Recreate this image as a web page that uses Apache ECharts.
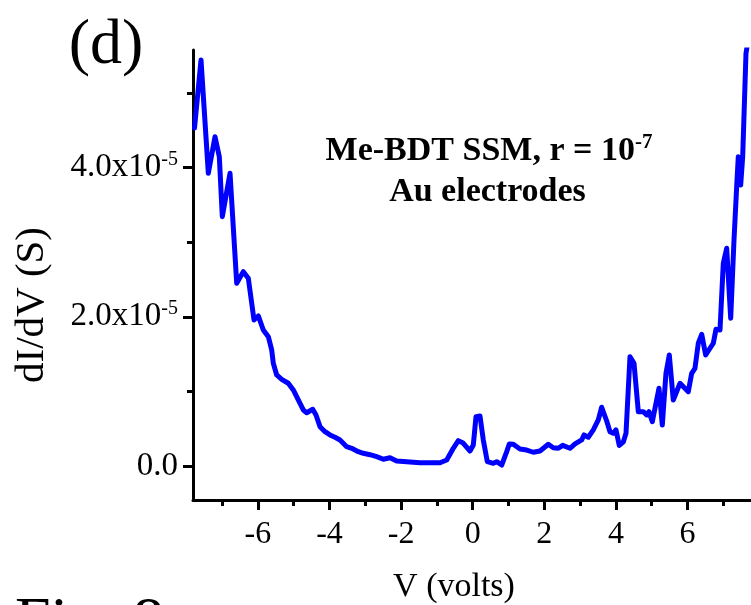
<!DOCTYPE html>
<html>
<head>
<meta charset="utf-8">
<title>dI/dV vs V</title>
<script src="https://cdn.jsdelivr.net/npm/echarts@6/dist/echarts.min.js"></script>
<style>
  html, body { margin: 0; padding: 0; background: #fff; }
  #chart { width: 751px; height: 605px; }
</style>
</head>
<body>
<div id="chart"></div>
<script>
// Bias voltage (V)
const volts = [
  -7.771, -7.589, -7.385, -7.198, -7.078, -6.994, -6.779, -6.592, -6.408, -6.268,
  -6.109, -5.989, -5.849, -5.709, -5.615, -5.570, -5.475, -5.335, -5.151, -5.011,
  -4.872, -4.732, -4.637, -4.469, -4.377, -4.265, -4.126, -3.986, -3.846, -3.707,
  -3.520, -3.380, -3.196, -3.056, -2.869, -2.682, -2.497, -2.310, -2.123, -1.844,
  -1.472, -0.913, -0.726, -0.542, -0.402, -0.279, -0.075, 0.017, 0.092, 0.204,
  0.296, 0.408, 0.575, 0.670, 0.810, 0.950, 1.022, 1.134, 1.321, 1.508,
  1.693, 1.880, 2.112, 2.251, 2.391, 2.514, 2.718, 2.858, 3.045, 3.109,
  3.229, 3.369, 3.508, 3.603, 3.743, 3.835, 3.927, 4.003, 4.095, 4.207,
  4.282, 4.394, 4.506, 4.626, 4.765, 4.860, 4.925, 5.017, 5.204, 5.296,
  5.399, 5.492, 5.603, 5.791, 6.022, 6.117, 6.209, 6.302, 6.397, 6.508,
  6.721, 6.796, 6.908, 7.000, 7.095, 7.207, 7.299, 7.374, 7.419, 7.486,
  7.542, 7.634, 7.760
];

// Differential conductance, in units of 1e-5 S
const dIdV = [
  4.531, 5.442, 3.924, 4.414, 4.146, 3.342, 3.924, 2.449, 2.605, 2.516,
  1.957, 2.011, 1.823, 1.733, 1.555, 1.377, 1.220, 1.162, 1.109, 1.019,
  0.885, 0.751, 0.714, 0.760, 0.684, 0.527, 0.460, 0.416, 0.385, 0.349,
  0.259, 0.237, 0.192, 0.170, 0.151, 0.125, 0.090, 0.111, 0.067, 0.058,
  0.044, 0.044, 0.080, 0.237, 0.339, 0.312, 0.201, 0.282, 0.661, 0.670,
  0.349, 0.058, 0.036, 0.058, 0.013, 0.192, 0.295, 0.291, 0.228, 0.214,
  0.184, 0.201, 0.291, 0.245, 0.237, 0.277, 0.237, 0.295, 0.349, 0.416,
  0.385, 0.483, 0.617, 0.787, 0.603, 0.460, 0.438, 0.483, 0.275, 0.322,
  0.438, 1.465, 1.377, 0.728, 0.728, 0.684, 0.728, 0.594, 1.042, 0.550,
  1.243, 1.488, 0.885, 1.109, 0.996, 1.243, 1.310, 1.645, 1.765, 1.488,
  1.645, 1.832, 1.823, 2.717, 2.918, 1.980, 3.029, 3.744, 4.146, 3.767,
  4.146, 5.532, 5.900
];

// Axis ticks
const vMajor = [-6, -4, -2, 0, 2, 4, 6];
const vMinor = [-7, -5, -3, -1, 1, 3, 5, 7];
const gMajor = [0, 2, 4];      // x 1e-5 S
const gMinor = [1, 3, 5];
const gLabels = ['0.0', '2.0x10', '4.0x10'];

const SERIF = '"Liberation Serif", "Times New Roman", serif';
const X_MIN = -7.813, X_MAX = 7.774;
const Y_MIN = -0.456, Y_MAX = 5.576;

const chart = echarts.init(document.getElementById('chart'), null, { renderer: 'canvas' });

const axisLineStyle = { color: '#000', width: 3 };
const plotBox = { left: 193, right: 0, top: 50, bottom: 105, containLabel: false, outerBoundsMode: 'none' };

chart.setOption({
  backgroundColor: '#fff',
  animation: false,
  // grid 0 carries the data and major ticks; grid 1 overlays it with the minor ticks only
  grid: [Object.assign({}, plotBox), Object.assign({}, plotBox)],
  xAxis: [
    {
      gridIndex: 0, type: 'value', min: X_MIN, max: X_MAX, position: 'bottom',
      axisLine: { show: true, onZero: false, lineStyle: axisLineStyle },
      axisTick: { show: true, inside: false, length: 10, customValues: vMajor, lineStyle: axisLineStyle },
      axisLabel: {
        show: true, customValues: vMajor, margin: 19,
        color: '#000', fontFamily: SERIF, fontSize: 32,
        formatter: v => String(v)
      },
      splitLine: { show: false }
    },
    {
      gridIndex: 1, type: 'value', min: X_MIN, max: X_MAX, position: 'bottom',
      axisLine: { show: false, onZero: false },
      axisTick: { show: true, inside: false, length: 6, customValues: vMinor, lineStyle: axisLineStyle },
      axisLabel: { show: false },
      splitLine: { show: false }
    }
  ],
  yAxis: [
    {
      gridIndex: 0, type: 'value', min: Y_MIN, max: Y_MAX, position: 'left',
      axisLine: { show: true, onZero: false, lineStyle: axisLineStyle },
      axisTick: { show: true, inside: false, length: 10, customValues: gMajor, lineStyle: axisLineStyle },
      axisLabel: {
        show: true, customValues: gMajor, margin: 15,
        color: '#000', fontFamily: SERIF, fontSize: 32,
        formatter: v => {
          const txt = gLabels[gMajor.indexOf(v)];
          return v === 0 ? '{m|' + txt + '}' : '{m|' + txt + '}{s|-5}';
        },
        rich: {
          m: { fontFamily: SERIF, fontSize: 33, color: '#000', lineHeight: 36 },
          s: { fontFamily: SERIF, fontSize: 20, color: '#000', verticalAlign: 'top', lineHeight: 36 }
        }
      },
      splitLine: { show: false }
    },
    {
      gridIndex: 1, type: 'value', min: Y_MIN, max: Y_MAX, position: 'left',
      axisLine: { show: false, onZero: false },
      axisTick: { show: true, inside: false, length: 6, customValues: gMinor, lineStyle: axisLineStyle },
      axisLabel: { show: false },
      splitLine: { show: false }
    }
  ],
  series: [{
    type: 'line',
    xAxisIndex: 0, yAxisIndex: 0,
    data: volts.map((v, i) => [v, dIdV[i]]),
    showSymbol: false,
    clip: true,
    lineStyle: { color: '#0000ff', width: 5, join: 'round', cap: 'round' },
    z: 1
  }],
  graphic: [
    {
      type: 'text', x: 106, y: 46, z: 10,
      style: { text: '(d)', fill: '#000', font: '64px ' + SERIF, align: 'center', verticalAlign: 'middle' }
    },
    {
      type: 'text', x: 489, y: 151, z: 10,
      style: {
        text: '{b|Me-BDT SSM, r = 10}{s|-7}', align: 'center', verticalAlign: 'middle',
        rich: {
          b: { fontFamily: SERIF, fontWeight: 'bold', fontSize: 34, fill: '#000', lineHeight: 38 },
          s: { fontFamily: SERIF, fontWeight: 'bold', fontSize: 21, fill: '#000', verticalAlign: 'top', lineHeight: 38 }
        }
      }
    },
    {
      type: 'text', x: 487.5, y: 192, z: 10,
      style: { text: 'Au electrodes', fill: '#000', font: 'bold 34px ' + SERIF, align: 'center', verticalAlign: 'middle' }
    },
    {
      type: 'text', x: 454, y: 587, z: 10,
      style: { text: 'V (volts)', fill: '#000', font: '34px ' + SERIF, align: 'center', verticalAlign: 'middle' }
    },
    {
      type: 'text', x: 32, y: 305, rotation: Math.PI / 2, z: 10,
      style: { text: 'dI/dV (S)', fill: '#000', font: '41px ' + SERIF, align: 'center', verticalAlign: 'middle' }
    },
    {
      type: 'text', x: 15, y: 624, z: 10,
      style: { text: 'Fig. 8', fill: '#000', font: '64px ' + SERIF, align: 'left', verticalAlign: 'middle' }
    }
  ]
});
</script>
</body>
</html>
